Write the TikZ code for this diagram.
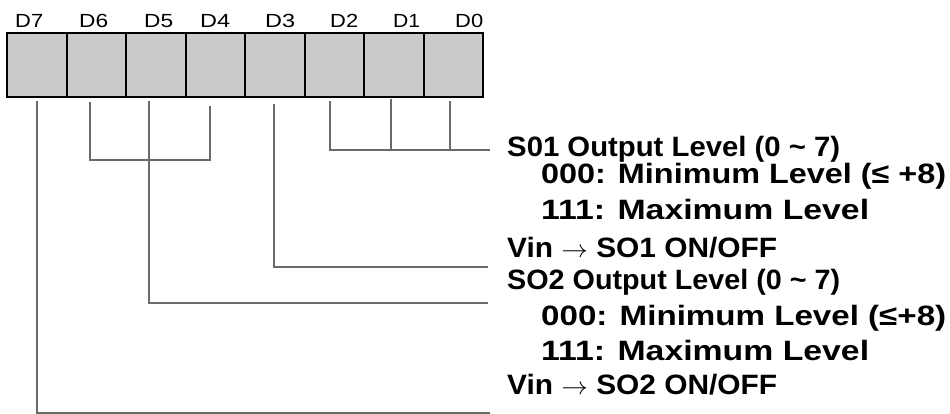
\documentclass[tikz,border=0pt]{standalone}
\usepackage{graphicx}
\usepackage{fontspec}
\setmainfont{Liberation Sans}
\newfontfamily\bitfont{Liberation Sans}
\newfontfamily\descfont{Liberation Sans Bold}
\definecolor{cellgray}{HTML}{CBCBCB}
\definecolor{wiregray}{HTML}{6A6A6A}
\newcommand{\fitw}[2]{\resizebox{#1pt}{\height}{#2}}
\newcommand{\rarr}{\ensuremath{\rightarrow}}
\tikzset{
  cell/.style={draw=black, line width=2pt, fill=cellgray, minimum width=59.5pt, minimum height=64pt, inner sep=0pt, outer sep=0pt},
  bitlabel/.style={font=\bitfont\fontsize{19}{19}\selectfont, anchor=base west, inner sep=0pt},
  desc/.style={font=\descfont\fontsize{28}{28}\selectfont, anchor=base west, inner sep=0pt},
  wire/.style={draw=wiregray, line width=1.3pt}
}
\begin{document}
\begin{tikzpicture}[x=1pt,y=-1pt]
\useasboundingbox (0,0) rectangle (950,414);
% register cells
\foreach \i in {7,...,0} {
  \node[cell] (c\i) at ({36.75+(7-\i)*59.5},65) {};
}
% bit labels
\node[bitlabel] (l7) at (15,27.5) {\fitw{28}{D7}};
\node[bitlabel] (l6) at (79,27.5) {\fitw{29}{D6}};
\node[bitlabel] (l5) at (144,27.5) {\fitw{29}{D5}};
\node[bitlabel] (l4) at (200,27.5) {\fitw{30}{D4}};
\node[bitlabel] (l3) at (265,27.5) {\fitw{30}{D3}};
\node[bitlabel] (l2) at (330,27.5) {\fitw{28}{D2}};
\node[bitlabel] (l1) at (393,27.5) {\fitw{27}{D1}};
\node[bitlabel] (l0) at (455,27.5) {\fitw{28}{D0}};
% descriptions
\node[desc] (t1) at (507,157) {\fitw{333}{S01 Output Level (0 \textasciitilde{} 7)}};
\node[desc] (t2) at (541,184) {\fitw{405}{000: Minimum Level (≤ +8)}};
\node[desc] (t3) at (541,219) {\fitw{328}{111: Maximum Level}};
\node[desc] (t4) at (507,257) {\fitw{270}{Vin \rarr{} SO1 ON/OFF}};
\node[desc] (t5) at (507,289) {\fitw{333}{SO2 Output Level (0 \textasciitilde{} 7)}};
\node[desc] (t6) at (541,325) {\fitw{405}{000: Minimum Level (≤+8)}};
\node[desc] (t7) at (541,360) {\fitw{328}{111: Maximum Level}};
\node[desc] (t8) at (507,394) {\fitw{270}{Vin \rarr{} SO2 ON/OFF}};
% wire start points under the cells
\coordinate (p7) at (37,101);
\coordinate (p6) at (90,102);
\coordinate (p5) at (149,101);
\coordinate (p4) at (210,106);
\coordinate (p3) at (274,104);
\coordinate (p2) at (330,101);
\coordinate (p1) at (391,99);
\coordinate (p0) at (450,101);
% wire ends
\coordinate (e1) at (490,150);
\coordinate (e3) at (488,267);
\coordinate (e5) at (488,303);
\coordinate (e7) at (490,413);
% D2..D0 -> S01 level
\draw[wire] (p2) |- (e1);
\draw[wire] (p1) -- (p1 |- e1);
\draw[wire] (p0) -- (p0 |- e1);
% D6..D4 bracket, D5 -> SO2 level
\draw[wire] (p6) |- (p4 |- 0,160) -- (p4);
\draw[wire] (p5) |- (e5);
% D3 -> SO1 on/off
\draw[wire] (p3) |- (e3);
% D7 -> SO2 on/off
\draw[wire] (p7) |- (e7);
\end{tikzpicture}
\end{document}
